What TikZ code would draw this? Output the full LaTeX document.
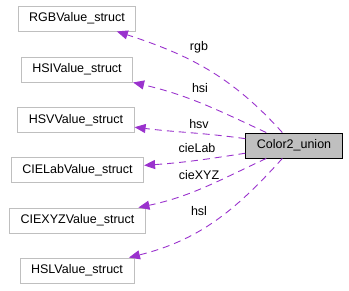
\documentclass[tikz,border=0pt]{standalone}
\usepackage{fontspec}
\setmainfont{Liberation Sans}
\usetikzlibrary{arrows.meta}
\definecolor{edgecol}{HTML}{9A32CD}
\definecolor{boxgray}{HTML}{BFBFBF}

\begin{document}
\begin{tikzpicture}[x=1pt,y=1pt,
	font=\fontsize{12.5}{15}\selectfont,
	member/.style={draw=boxgray, fill=white, line width=0.9pt, minimum height=25pt, inner xsep=11pt},
	usage/.style={draw=edgecol, dash pattern=on 7pt off 5pt, line width=0.9pt, -{Triangle[length=11pt,width=9pt,fill=edgecol]}}]
		\useasboundingbox (0,0) rectangle (349,-291);
		
		%union and its members
		\node[draw=black, fill=boxgray, line width=0.9pt, minimum height=25pt, inner xsep=11pt] (color) at (294,-145.5){Color2\_union};
		\node[member] (rgb) at (77,-18.5){RGBValue\_struct};
		\node[member] (hsi) at (77,-69.5){HSIValue\_struct};
		\node[member] (hsv) at (76,-120){HSVValue\_struct};
		\node[member] (lab) at (77.5,-170){CIELabValue\_struct};
		\node[member] (xyz) at (77.5,-220.5){CIEXYZValue\_struct};
		\node[member] (hsl) at (77,-270.5){HSLValue\_struct};
		
		%usage edges
		\draw[usage] (color) to[out=132, in=-18] (rgb);
		\draw[usage] (color) to[out=155, in=-13] (hsi);
		\draw[usage] (color) to[out=172, in=-7] (hsv);
		\draw[usage] (color) to[out=189, in=4] (lab);
		\draw[usage] (color) to[out=205, in=12] (xyz);
		\draw[usage] (color) to[out=228, in=14] (hsl);
		
		\node (lrgb) at (199,-47){rgb};
		\node (lhsi) at (200,-88){hsi};
		\node (lhsv) at (199,-124){hsv};
		\node (llab) at (197,-148){cieLab};
		\node (lxyz) at (199,-175){cieXYZ};
		\node (lhsl) at (199,-211){hsl};
		\end{tikzpicture}
\end{document}
